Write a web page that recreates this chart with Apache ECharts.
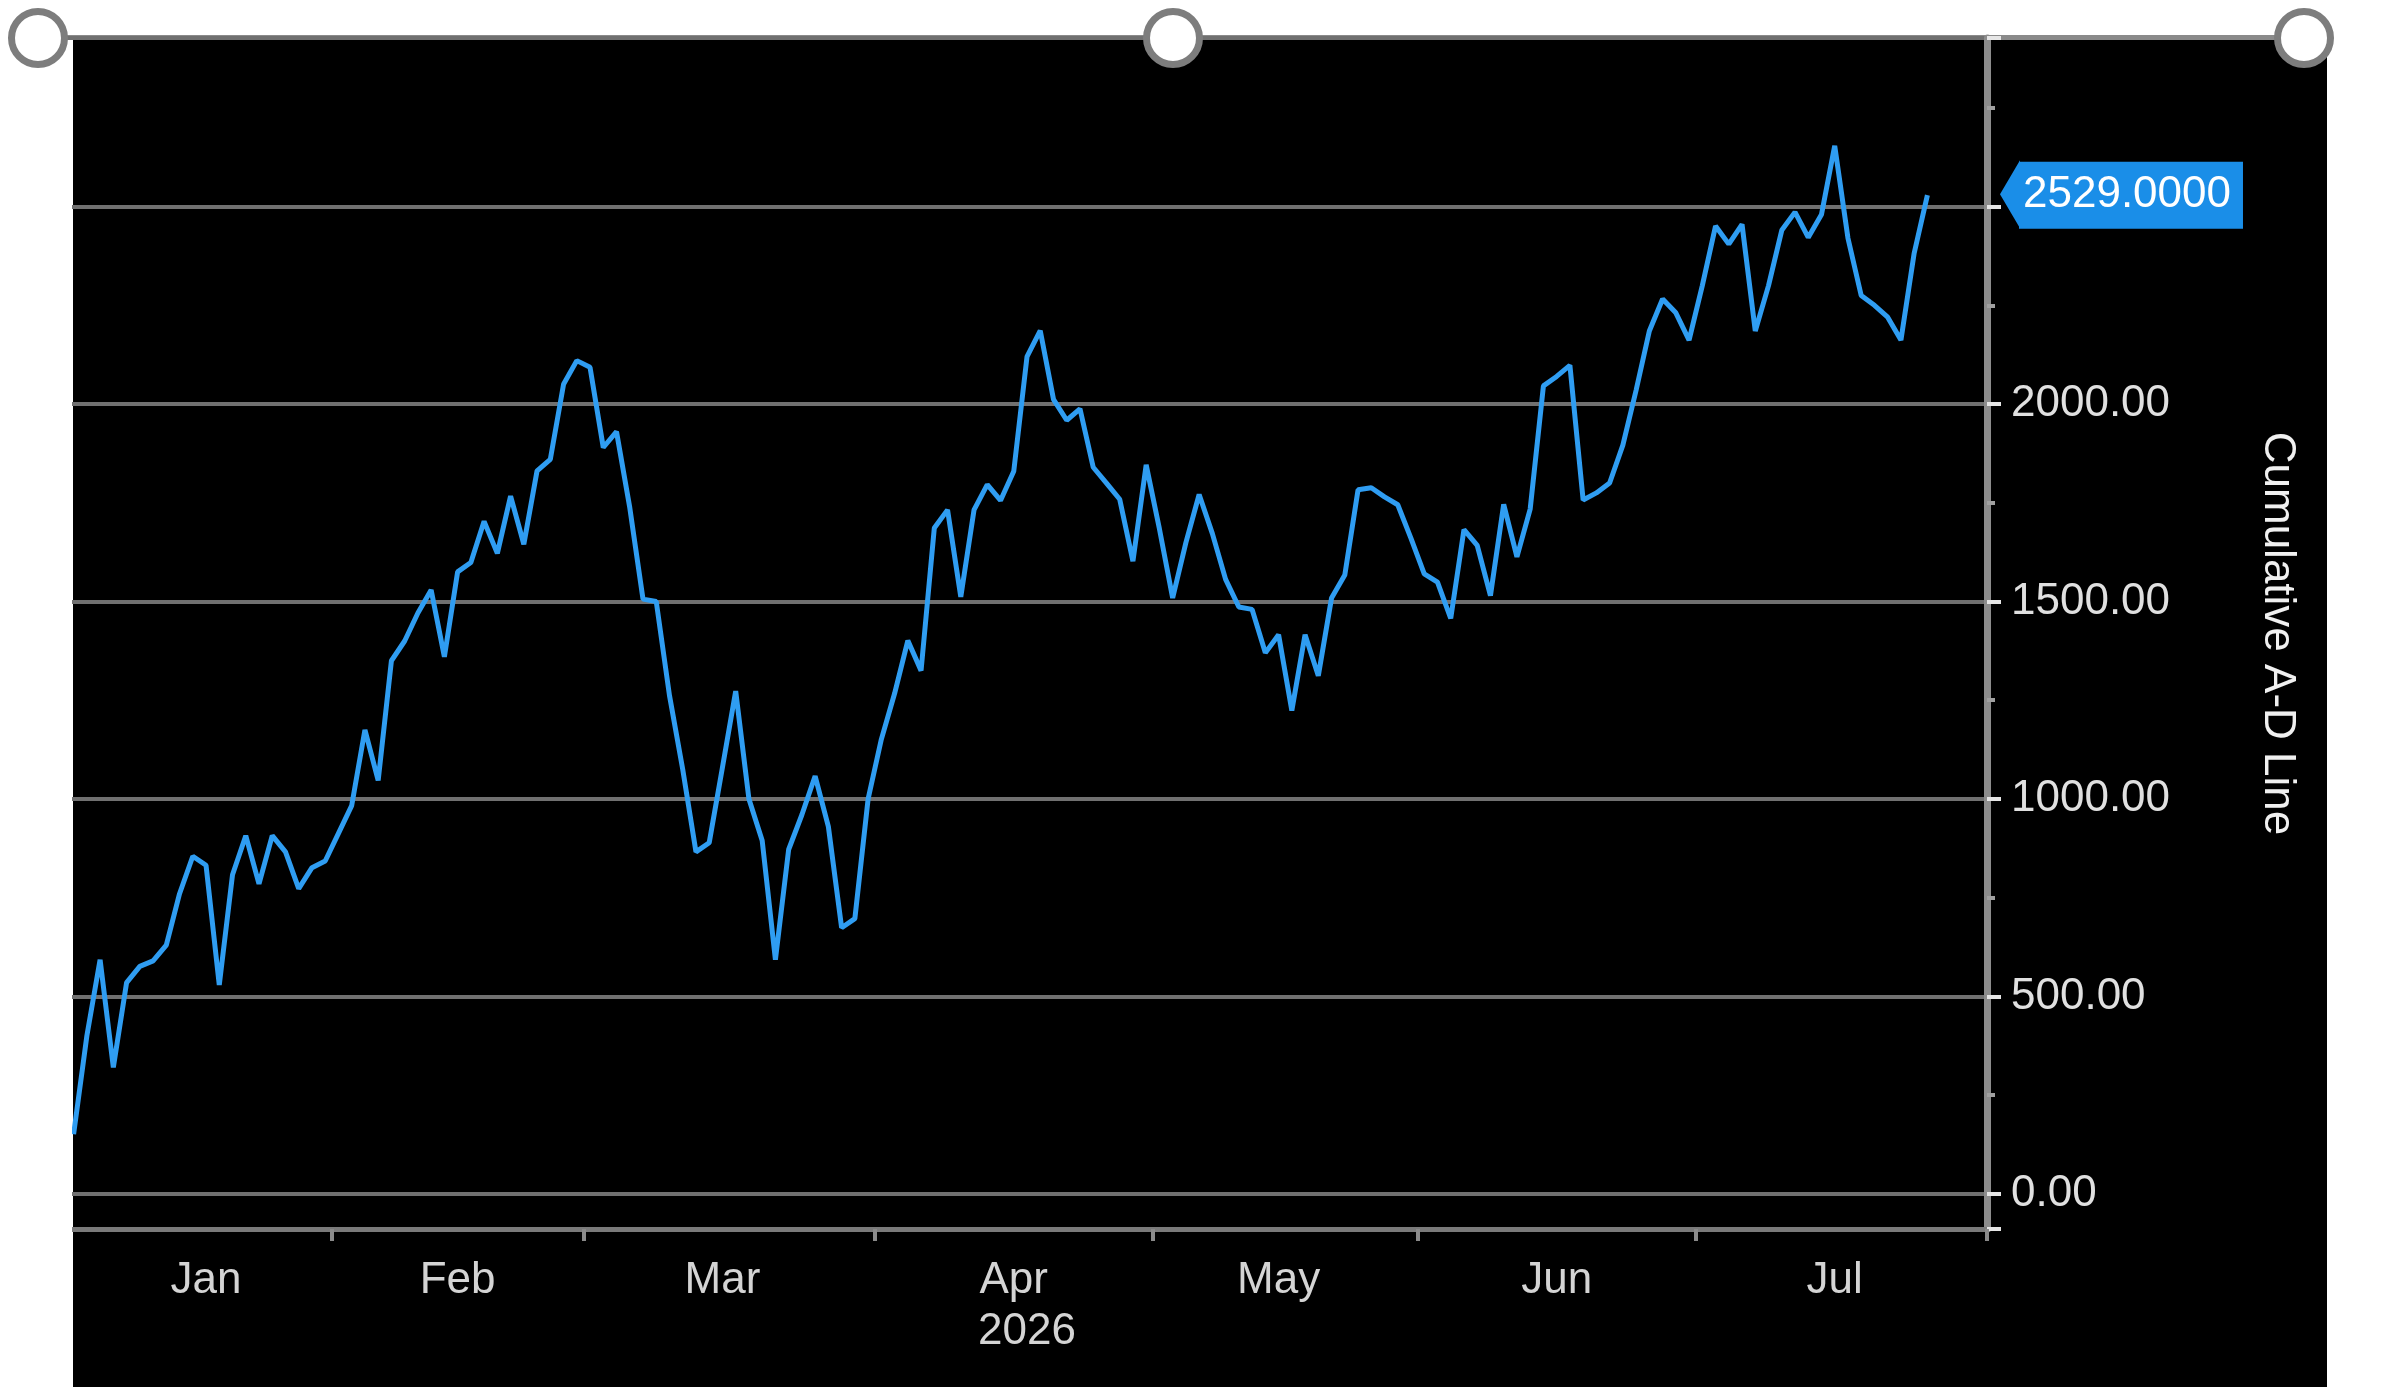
<!DOCTYPE html>
<html>
<head>
    <meta charset="utf-8">
    <title>Cumulative A-D Line</title>
    <script src="https://cdn.jsdelivr.net/npm/echarts@6.0.0/dist/echarts.min.js"></script>
    <style>
        html, body { margin: 0; padding: 0; background: #fff; }
        #panel { position: absolute; left: 73px; top: 40px; width: 2254px; height: 1347px; background: #000; }
        #frame { position: absolute; left: 38px; top: 35px; width: 2266px; height: 5px; background: #8a8a8a; }
        #main { position: absolute; left: 0; top: 0; width: 2400px; height: 1387px; }
        #margin { position: absolute; left: 0; top: 40px; width: 72px; height: 1347px; background: #fff; }
        .handle { position: absolute; width: 46px; height: 46px; margin: -30px 0 0 -30px;
                  border: 7px solid #7d7d7d; border-radius: 50%; background: #fff; }
    </style>
</head>
<body>
<div id="panel"></div>
<div id="frame"></div>
<div id="main"></div>
<div id="margin"></div>
<div class="handle" style="left:38px;top:38px"></div>
<div class="handle" style="left:1173px;top:38px"></div>
<div class="handle" style="left:2304px;top:38px"></div>
<script type="text/javascript">
    var year = '2026';
    var monthNames = ['Jan', 'Feb', 'Mar', 'Apr', 'May', 'Jun', 'Jul'];
    // day of month where each month label sits
    var labelDays = [16, 13, 16, 16, 14, 15, 16];
    // trading days of each month (NYSE calendar)
    var tradingDays = [
        [2, 5, 6, 7, 8, 9, 12, 13, 14, 15, 16, 20, 21, 22, 23, 26, 27, 28, 29, 30],
        [2, 3, 4, 5, 6, 9, 10, 11, 12, 13, 17, 18, 19, 20, 23, 24, 25, 26, 27],
        [2, 3, 4, 5, 6, 9, 10, 11, 12, 13, 16, 17, 18, 19, 20, 23, 24, 25, 26, 27, 30, 31],
        [1, 2, 6, 7, 8, 9, 10, 13, 14, 15, 16, 17, 20, 21, 22, 23, 24, 27, 28, 29, 30],
        [1, 4, 5, 6, 7, 8, 11, 12, 13, 14, 15, 18, 19, 20, 21, 22, 26, 27, 28, 29],
        [1, 2, 3, 4, 5, 8, 9, 10, 11, 12, 15, 16, 17, 18, 22, 23, 24, 25, 26, 29, 30],
        [1, 2, 6, 7, 8, 9, 10, 13, 14, 15, 16, 17, 20, 21, 22, 23, 24, 27, 28, 29, 30, 31]
    ];
    // cumulative advance-decline line, one value per trading day
    var janValues = [151, 400, 593, 320, 535, 576, 590, 630, 760, 855, 832, 529, 808, 907, 785, 907, 866, 773, 826, 843];
    var febValues = [913, 983, 1175, 1047, 1350, 1400, 1471, 1529, 1360, 1575, 1599, 1703, 1622, 1767, 1645, 1831, 1860, 2050, 2110];
    var marValues = [2093, 1890, 1930, 1738, 1506, 1500, 1262, 1075, 866, 889, 1080, 1273, 1000, 895, 593, 872, 960, 1058, 930, 674, 697, 1000];
    var aprValues = [1151, 1267, 1401, 1325, 1686, 1732, 1512, 1732, 1796, 1756, 1830, 2120, 2186, 2012, 1959, 1988, 1840, 1800, 1759, 1602, 1846];
    var mayValues = [1684, 1509, 1649, 1771, 1672, 1556, 1486, 1480, 1370, 1416, 1224, 1416, 1312, 1509, 1567, 1783, 1788, 1765, 1745, 1660];
    var junValues = [1570, 1549, 1457, 1682, 1642, 1515, 1746, 1613, 1734, 2046, 2070, 2098, 1757, 1775, 1800, 1896, 2035, 2185, 2266, 2231, 2162];
    var julValues = [2300, 2451, 2405, 2455, 2185, 2300, 2440, 2486, 2422, 2480, 2654, 2420, 2275, 2250, 2220, 2162, 2382, 2529];
    var lastValue = 2529;

    var adLine = [].concat(janValues, febValues, marValues, aprValues, mayValues, junValues, julValues);

    function pad(n) {
        return n < 10 ? '0' + n : '' + n;
    }

    var dates = [];
    var monthStart = [];
    var labelIndex = [];
    for (var m = 0; m < tradingDays.length; m++) {
        monthStart.push(dates.length);
        labelIndex.push(dates.length + tradingDays[m].indexOf(labelDays[m]));
        for (var d = 0; d < tradingDays[m].length; d++) {
            dates.push(year + '-' + pad(m + 1) + '-' + pad(tradingDays[m][d]));
        }
    }

    var tagColor = '#1a8ee8';
    var chart = echarts.init(document.getElementById('main'));

    option = {
        backgroundColor: 'transparent',
        animation: false,
        textStyle: {fontFamily: 'Liberation Sans, Arial, sans-serif'},
        grid: {left: 67, right: 413, top: 38, bottom: 158},
        xAxis: {
            type: 'category',
            data: dates,
            boundaryGap: true,
            axisLine: {show: true, onZero: false, lineStyle: {color: '#7a7a7a', width: 5}},
            axisTick: {
                show: true,
                length: 12,
                interval: function (i) {
                    return monthStart.indexOf(i) > 0;
                },
                lineStyle: {color: '#8a8a8a', width: 4}
            },
            axisLabel: {
                interval: function (i) {
                    return labelIndex.indexOf(i) >= 0;
                },
                formatter: function (v) {
                    return monthNames[parseInt(v.substr(5, 2), 10) - 1];
                },
                color: '#d4d4d4',
                fontSize: 44,
                margin: 30
            },
            splitLine: {show: false},
            name: year,
            nameLocation: 'middle',
            nameGap: 81,
            nameTextStyle: {color: '#d4d4d4', fontSize: 44}
        },
        yAxis: {
            type: 'value',
            position: 'right',
            min: -89,
            max: 2927,
            splitNumber: 6,
            axisLine: {show: true, lineStyle: {color: '#8c8c8c', width: 7}},
            axisTick: {show: true, inside: false, length: 14, lineStyle: {color: '#e6e6e6', width: 4}},
            minorTick: {show: true, splitNumber: 2, length: 8, lineStyle: {color: '#a0a0a0', width: 4}},
            splitLine: {show: true, lineStyle: {color: '#707070', width: 4}},
            axisLabel: {
                color: '#e0e0e0',
                fontSize: 44,
                margin: 24,
                showMinLabel: false,
                showMaxLabel: false,
                formatter: function (v) {
                    return v === 2500 ? '' : v.toFixed(2);
                }
            },
            name: 'Cumulative A-D Line',
            nameLocation: 'middle',
            nameRotate: -90,
            nameGap: 268,
            nameTextStyle: {color: '#f0f0f0', fontSize: 44}
        },
        series: [{
            type: 'line',
            data: adLine,
            showSymbol: false,
            symbol: 'none',
            lineStyle: {color: '#2f9df2', width: 5},
            markLine: {
                silent: true,
                symbol: ['none', 'none'],
                lineStyle: {color: tagColor, width: 0, type: 'solid'},
                label: {
                    show: true,
                    position: 'end',
                    distance: 32,
                    formatter: lastValue.toFixed(4),
                    color: '#ffffff',
                    fontSize: 44,
                    backgroundColor: tagColor,
                    padding: [10, 12, 13, 4]
                },
                data: [{yAxis: lastValue}]
            }
        }]
    };

    chart.setOption(option);

    // pointed left end of the last-value tag, placed through the y scale
    var tagY = chart.convertToPixel({yAxisIndex: 0}, lastValue);
    var axisX = chart.getWidth() - option.grid.right;
    chart.setOption({
        graphic: [{
            type: 'polygon',
            silent: true,
            shape: {points: [[axisX + 13, tagY - 1], [axisX + 33, tagY - 35], [axisX + 33, tagY + 33]]},
            style: {fill: tagColor}
        }]
    });
</script>
</body>
</html>
